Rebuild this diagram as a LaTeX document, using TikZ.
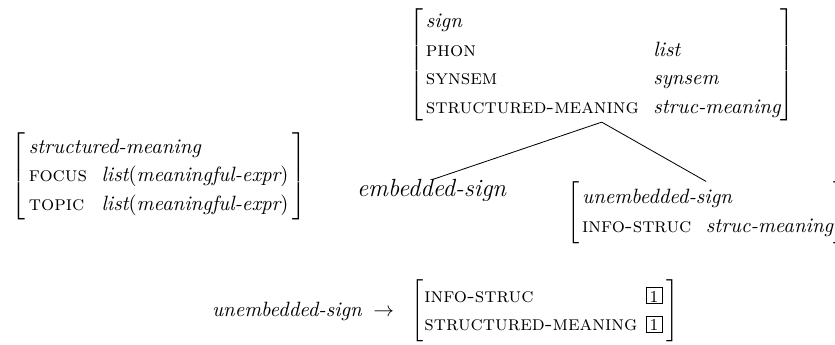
\documentclass[tikz,border=0pt]{standalone}
\usepackage{amsmath}
\usepackage{amssymb}
\usepackage{tikz}
\usetikzlibrary{positioning,calc}

% kleiner Kasten fuer die Koindizierung
\newcommand{\coidx}[1]{{\setlength{\fboxsep}{0pt}\fbox{\makebox[7.4pt]{\rule[-0.4pt]{0pt}{7.4pt}\footnotesize #1}}}}
\newcommand{\feat}[1]{\textsc{#1}}
\newcommand{\typ}[1]{\textit{#1}}
\renewcommand{\arraystretch}{1.15}
\setlength{\arraycolsep}{3.5pt}

\begin{document}
\begin{tikzpicture}[
					x=0.483pt, y=-0.483pt,
					every node/.style={inner sep=0pt, outer sep=0pt},
					% Stil fuer die Merkmalsstrukturen
					avm/.style={
						font=\normalsize, anchor=west
					},
					% Stil fuer die Aeste der Hierarchie
					branch/.style={draw=black, line width=0.4pt}
					]
					\useasboundingbox (0,0) rectangle (835,345);
					\clip (0,0) rectangle (835,345);
					
					% Oberster Typ
					\node[avm] (sign) at (409,65) {$\left[\begin{array}{@{\hspace{1.5pt}}ll@{}}
							\typ{sign} & \\
							\feat{phon} & \typ{list} \\
							\feat{synsem} & \typ{synsem} \\
							\feat{structured-meaning} & \typ{struc-meaning}
						\end{array}\right]$};
					
					% Struktur links
					\node[avm] (strucm) at (12,176) {$\left[\begin{array}{@{\hspace{1.5pt}}ll@{\hspace{2pt}}}
							\multicolumn{2}{@{\hspace{1.5pt}}l@{\hspace{2pt}}}{\typ{structured-meaning}} \\
							\feat{focus} & \typ{list}(\typ{meaningful-expr}) \\
							\feat{topic} & \typ{list}(\typ{meaningful-expr})
						\end{array}\right]$};
					
					% Die beiden Subtypen
					\node[anchor=base west, font=\large] (emb) at (357,197) {\typ{embedded-sign}};
					\node[avm] (unemb) at (567,212.5) {$\left[\begin{array}{@{\hspace{1.5pt}}ll@{}}
							\multicolumn{2}{@{\hspace{1.5pt}}l@{}}{\typ{unembedded-sign}} \\
							\feat{info-struc} & \typ{struc-meaning}
						\end{array}\right]$};
					
					\draw[branch] (sign.south) -- (emb.north);
					\draw[branch] (sign.south) -- (unemb.north);
					
					% Constraint unten
					\node[anchor=west] (cons) at (212,311) {$\typ{unembedded-sign}\;\rightarrow\;\;
						\left[\begin{array}{@{\hspace{0.5pt}}l@{\hspace{4pt}}l@{\hspace{2pt}}}
							\feat{info-struc} & \coidx{1} \\
							\feat{structured-meaning} & \coidx{1}
						\end{array}\right]$};
					
				\end{tikzpicture}
\end{document}
